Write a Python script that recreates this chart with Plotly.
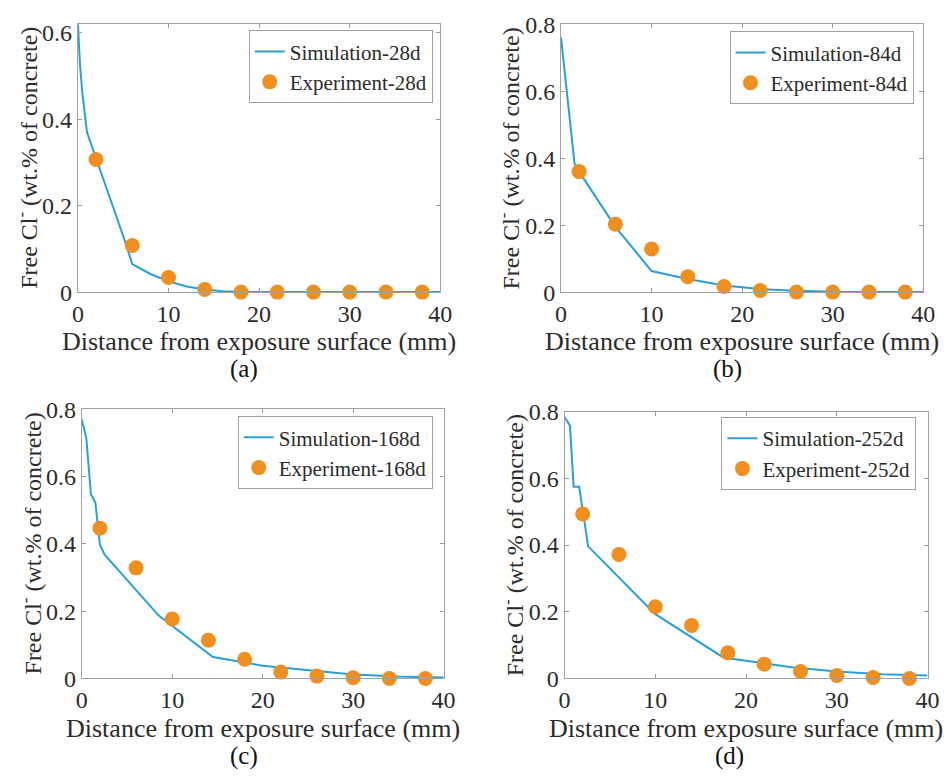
import plotly.graph_objects as go

FONT = "Liberation Serif"
TXT = "#2b2b2b"
LINE_C = "#2a9fd6"
MARK_C = "#ee8f1f"

exp_x = [2, 6, 10, 14, 18, 22, 26, 30, 34, 38]

# (a) 28 d
sim_a_x = [0, 0.25, 0.5, 1, 2, 3, 4, 5, 6, 8, 10, 12, 14, 16, 18, 20, 40]
sim_a_y = [0.62, 0.52, 0.46, 0.37, 0.31, 0.25, 0.195, 0.13, 0.065, 0.042, 0.025, 0.013, 0.006, 0.002, 0, 0, 0]
exp_a_y = [0.307, 0.108, 0.034, 0.006, 0, 0, 0, 0, 0, 0]

# (b) 84 d
sim_b_x = [0, 0.5, 1, 1.5, 2, 6, 10, 14, 18, 22, 26, 30, 40]
sim_b_y = [0.761, 0.63, 0.5, 0.383, 0.36, 0.195, 0.063, 0.039, 0.02, 0.009, 0.004, 0.001, 0]
exp_b_y = [0.36, 0.203, 0.129, 0.046, 0.017, 0.005, 0, 0, 0, 0]

# (c) 168 d
sim_c_x = [0, 0.5, 1, 1.5, 2, 2.5, 8.5, 14.5, 20, 25, 30, 35, 40]
sim_c_y = [0.769, 0.714, 0.549, 0.522, 0.398, 0.369, 0.187, 0.064, 0.038, 0.024, 0.012, 0.006, 0.003]
exp_c_y = [0.447, 0.329, 0.177, 0.114, 0.057, 0.019, 0.007, 0.002, 0, 0]

# (d) 252 d
sim_d_x = [0, 0.6, 1, 1.6, 2.1, 2.6, 10, 17.5, 20, 25, 30, 35, 40]
sim_d_y = [0.784, 0.758, 0.575, 0.575, 0.488, 0.396, 0.193, 0.063, 0.053, 0.034, 0.021, 0.013, 0.009]
exp_d_y = [0.493, 0.372, 0.215, 0.159, 0.077, 0.043, 0.021, 0.009, 0.003, 0]

labels = ["28d", "84d", "168d", "252d"]
sims = [(sim_a_x, sim_a_y), (sim_b_x, sim_b_y), (sim_c_x, sim_c_y), (sim_d_x, sim_d_y)]
exps = [exp_a_y, exp_b_y, exp_c_y, exp_d_y]
yranges = [[0, 0.62], [0, 0.8], [0, 0.8], [0, 0.8]]
yticks = [[0, 0.2, 0.4, 0.6], [0, 0.2, 0.4, 0.6, 0.8], [0, 0.2, 0.4, 0.6, 0.8], [0, 0.2, 0.4, 0.6, 0.8]]

W, H = 952, 784
# plot boxes in pixels: (left, right, top, bottom)
boxes = [(73.3, 442.7, 11.7, 288.7), (565.7, 935.0, 11.7, 288.7),
         (77.3, 446.0, 410.0, 688.3), (569.3, 939.3, 412.3, 688.3)]
legpos = [(435, 18), (925, 19), (435, 417), (928, 418)]
xtitle_pos = [(258, 340), (750, 340), (261.6, 740), (754.3, 740)]
sub_pos = [(243, 368, "(a)"), (735, 368, "(b)"), (243, 768, "(c)"), (737, 768, "(d)")]
ytitle_x = [22, 513, 25, 517]

fig = go.Figure()
layout = dict(
    width=W, height=H, margin=dict(l=0, r=0, t=0, b=0),
    paper_bgcolor="white", plot_bgcolor="white",
    font=dict(family=FONT, color=TXT, size=20),
    showlegend=True,
)
annotations = []
for i in range(4):
    n = "" if i == 0 else str(i + 1)
    leg = "legend" if i == 0 else "legend" + str(i + 1)
    sx, sy = sims[i]
    fig.add_trace(go.Scatter(x=sx, y=sy, mode="lines", name="Simulation-" + labels[i],
                             line=dict(color=LINE_C, width=2), xaxis="x" + n, yaxis="y" + n,
                             legend=leg))
    fig.add_trace(go.Scatter(x=exp_x, y=exps[i], mode="markers", name="Experiment-" + labels[i],
                             marker=dict(color=MARK_C, size=15, line=dict(width=0)),
                             xaxis="x" + n, yaxis="y" + n, legend=leg, cliponaxis=False))
    l, r, t, b = boxes[i]
    layout["xaxis" + n] = dict(
        domain=[l / W, r / W], anchor="y" + n, range=[0, 40],
        tickvals=[0, 10, 20, 30, 40], ticks="inside", ticklen=4, tickcolor="#9a9a9a",
        showline=True, linecolor="#a0a0a0", linewidth=1, mirror="ticks",
        showgrid=False, zeroline=False, tickfont=dict(size=24, family=FONT, color=TXT),
    )
    layout["yaxis" + n] = dict(
        domain=[1 - b / H, 1 - t / H], anchor="x" + n, range=yranges[i],
        tickvals=yticks[i], ticktext=[("%g" % v) for v in yticks[i]],
        ticks="inside", ticklen=4, tickcolor="#9a9a9a",
        showline=True, linecolor="#a0a0a0", linewidth=1, mirror="ticks",
        showgrid=False, zeroline=False, tickfont=dict(size=24, family=FONT, color=TXT),
    )
    lx, ly = legpos[i]
    layout[leg] = dict(
        x=lx / W, y=1 - ly / H, xanchor="right", yanchor="top",
        bordercolor="#a0a0a0", borderwidth=1, bgcolor="white",
        font=dict(size=21, family=FONT, color=TXT), tracegroupgap=0,
        itemwidth=30,
    )
    xt, yt = xtitle_pos[i]
    annotations.append(dict(text="Distance from exposure surface (mm)", x=xt / W, y=1 - yt / H,
                            xref="paper", yref="paper", showarrow=False, xanchor="center",
                            yanchor="middle", font=dict(size=26, family=FONT, color=TXT)))
    sxp, syp, st = sub_pos[i]
    annotations.append(dict(text=st, x=sxp / W, y=1 - syp / H, xref="paper", yref="paper",
                            showarrow=False, xanchor="center", yanchor="middle",
                            font=dict(size=25, family=FONT, color="#111111")))
    annotations.append(dict(text="Free Cl<sup>-</sup> (wt.% of concrete)", x=ytitle_x[i] / W,
                            y=1 - (t + b) / 2 / H, xref="paper", yref="paper", showarrow=False,
                            textangle=-90, xanchor="center", yanchor="middle",
                            font=dict(size=24, family=FONT, color=TXT)))
layout["annotations"] = annotations
fig.update_layout(**layout)
fig.write_html("out.html")
